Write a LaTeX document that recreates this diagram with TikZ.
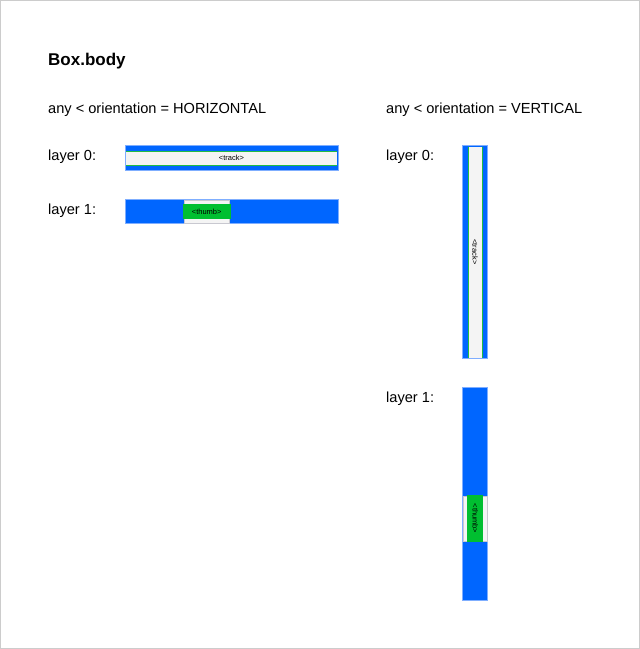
\documentclass[tikz,border=0pt]{standalone}
\usepackage{fontspec}
\setmainfont{Liberation Sans}
\definecolor{barblue}{HTML}{0066FF}
\definecolor{baredge}{HTML}{7FAEFF}
\definecolor{trackfill}{HTML}{F4F4F4}
\definecolor{trackline}{HTML}{22BB44}
\definecolor{thumbgreen}{HTML}{00BF30}
\definecolor{thumbedge}{HTML}{C8C8D0}
\definecolor{frame}{HTML}{CCCCCC}
\tikzset{
  bar/.style={fill=barblue, draw=baredge, line width=0.8pt},
  trackbox/.style={fill=trackfill},
  trackedge/.style={draw=trackline, line width=1pt},
  thumbbg/.style={fill=trackfill, draw=thumbedge, line width=0.8pt},
  thumbfill/.style={fill=thumbgreen},
  title/.style={font=\fontsize{17}{20}\selectfont\bfseries, anchor=base west, inner sep=0pt},
  heading/.style={font=\fontsize{14.6}{17}\selectfont, anchor=base west, inner sep=0pt},
  tiny/.style={font=\fontsize{7.5}{9}\selectfont, inner sep=0pt}
}
\begin{document}
\begin{tikzpicture}[x=1pt,y=-1pt]
\useasboundingbox (0,0) rectangle (640,649);
\draw[frame, line width=1pt] (0.5,0.5) rectangle (639.5,648.5);

% texts
\node[title] (ttl) at (48,65.5) {Box.body};
\node[heading] (hh) at (48,113.3) {any < orientation = HORIZONTAL};
\node[heading] (hv) at (386,113.3) {any < orientation = VERTICAL};
\node[heading] (hl0) at (48,160.5) {layer 0:};
\node[heading] (hl1) at (48,214.5) {layer 1:};
\node[heading] (vl0) at (386,160.5) {layer 0:};
\node[heading] (vl1) at (386,402.5) {layer 1:};

% horizontal layer 0
\draw[bar] (125,145.5) rectangle (338,170.5);
\fill[trackbox] (126,151) rectangle (337,165);
\draw[trackedge] (126,151) -- (337,151);
\draw[trackedge] (126,165) -- (337,165);
\node[tiny] (ht) at (231.5,158) {<track>};

% horizontal layer 1
\draw[bar] (125,199.5) rectangle (338,223.5);
\draw[thumbbg] (184,200) rectangle (229,223);
\fill[thumbfill] (182.5,204) rectangle (231,219);
\node[tiny] (hth) at (206.7,211.5) {<thumb>};

% vertical layer 0
\draw[bar] (462.5,145.5) rectangle (487.5,358.5);
\fill[trackbox] (468,146.5) rectangle (482,357.5);
\draw[trackedge] (468,146.5) -- (468,357.5);
\draw[trackedge] (482,146.5) -- (482,357.5);
\node[tiny, rotate=-90] (vt) at (475,252) {<track>};

% vertical layer 1
\draw[bar] (462.5,387.5) rectangle (487.5,600.5);
\draw[thumbbg] (463,496) rectangle (487,541);
\fill[thumbfill] (467.3,495) rectangle (483.3,542);
\node[tiny, rotate=-90] (vth) at (475.3,518.5) {<thumb>};
\end{tikzpicture}
\end{document}
